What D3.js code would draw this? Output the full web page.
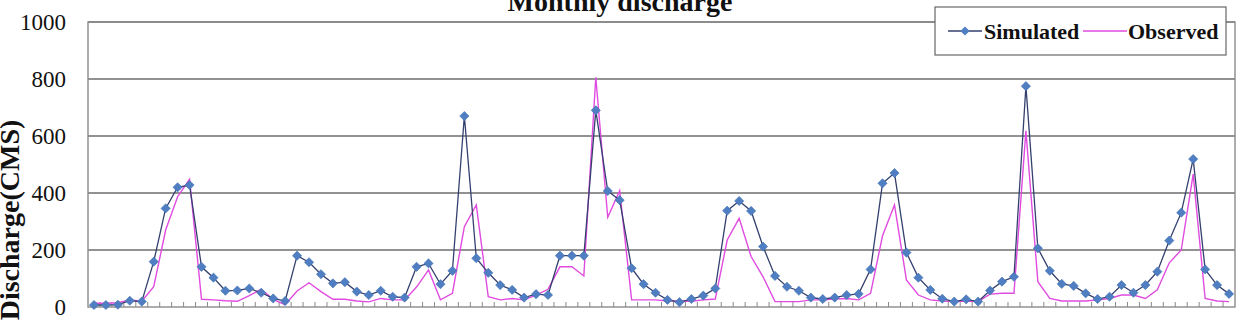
<!DOCTYPE html>
<html>
<head>
<meta charset="utf-8">
<script src="https://cdn.jsdelivr.net/npm/d3@7"></script>
<style>
  html, body { margin: 0; padding: 0; background: #fff; }
  svg { display: block; }
  svg text { font-family: "Liberation Serif", "Times New Roman", serif; }
</style>
</head>
<body>
<svg id="chart" width="1248" height="320"></svg>
<script>
// Monthly values, 96 months
const simulated = [7, 7, 8, 22, 19, 159, 346, 420, 428, 141, 103, 57, 58, 65, 50, 30,
  21, 180, 157, 115, 83, 87, 54, 42, 57, 36, 33, 141, 153, 80, 127, 670,
  171, 120, 77, 60, 33, 45, 42, 180, 180, 180, 690, 407, 375, 136, 80, 50,
  25, 17, 28, 40, 65, 338, 372, 337, 212, 109, 71, 57, 33, 28, 33, 42,
  46, 132, 434, 470, 191, 103, 60, 29, 19, 27, 19, 58, 89, 106, 775, 206,
  127, 81, 74, 48, 28, 36, 77, 50, 77, 124, 233, 331, 519, 132, 77, 46]
const observed = [13, 13, 15, 25, 20, 71, 270, 387, 448, 27, 25, 22, 20, 40, 62, 27,
  8, 56, 85, 54, 27, 27, 21, 18, 30, 25, 25, 70, 130, 25, 48, 282,
  358, 36, 25, 30, 25, 42, 62, 141, 141, 109, 806, 315, 408, 25, 25, 25,
  21, 21, 20, 25, 28, 235, 311, 177, 106, 19, 19, 19, 25, 25, 28, 30,
  25, 48, 250, 358, 95, 42, 25, 21, 19, 21, 19, 45, 48, 48, 618, 89,
  30, 21, 21, 21, 25, 30, 42, 42, 30, 60, 155, 200, 466, 30, 21, 19]
const yTicks = [0, 200, 400, 600, 800, 1000]
const seriesNames = ['Simulated', 'Observed']

const svg = d3.select('#chart')
const plot = { left: 88, right: 1235, top: 22, bottom: 307 }

const x = d3.scaleBand()
  .domain(d3.range(simulated.length))
  .range([plot.left, plot.right])
const y = d3.scaleLinear()
  .domain([0, 1000])
  .range([plot.bottom, plot.top])
const cx = i => x(i) + x.bandwidth() / 2

// gridlines
svg.append('g')
  .selectAll('line')
  .data(yTicks.filter(t => t > 0))
  .join('line')
  .attr('x1', plot.left).attr('x2', plot.right)
  .attr('y1', d => y(d)).attr('y2', d => y(d))
  .attr('stroke', '#6e6e6e')
  .attr('stroke-width', 1.6)

// plot frame
svg.append('rect')
  .attr('x', plot.left).attr('y', plot.top)
  .attr('width', plot.right - plot.left)
  .attr('height', plot.bottom - plot.top)
  .attr('fill', 'none')
  .attr('stroke', '#8a8a8a')
  .attr('stroke-width', 1.4)

// y axis labels
const yAxis = d3.axisLeft(y).tickValues(yTicks).tickFormat(d3.format('d')).tickSize(0).tickPadding(22)
svg.append('g')
  .attr('transform', `translate(${plot.left},0)`)
  .call(yAxis)
  .call(g => g.select('.domain').remove())
  .call(g => g.attr('font-family', null).attr('font-size', null))
  .selectAll('text')
  .style('font-size', '23px')
  .attr('fill', '#111')

// category ticks on the bottom axis (inside)
svg.append('g')
  .selectAll('line')
  .data(d3.range(1, simulated.length))
  .join('line')
  .attr('x1', d => x(d)).attr('x2', d => x(d))
  .attr('y1', plot.bottom).attr('y2', plot.bottom - 5)
  .attr('stroke', '#8a8a8a')
  .attr('stroke-width', 1)

const line = d3.line()
  .x((d, i) => cx(i))
  .y(d => y(d))

// observed
svg.append('path')
  .datum(observed)
  .attr('d', line)
  .attr('fill', 'none')
  .attr('stroke', '#e04be0')
  .attr('stroke-width', 1.4)

// simulated
svg.append('path')
  .datum(simulated)
  .attr('d', line)
  .attr('fill', 'none')
  .attr('stroke', '#34406e')
  .attr('stroke-width', 1.3)

const diamond = d3.symbol().type(d3.symbolSquare).size(42)
svg.append('g')
  .selectAll('path')
  .data(simulated)
  .join('path')
  .attr('d', diamond)
  .attr('transform', (d, i) => `translate(${cx(i)},${y(d)}) rotate(45)`)
  .attr('fill', '#4f7fc2')
  .attr('stroke', '#4170b0')
  .attr('stroke-width', 0.6)

// title (cut at the top, as in the source image)
svg.append('text')
  .attr('x', 620).attr('y', 11)
  .attr('text-anchor', 'middle')
  .style('font-size', '28px')
  .attr('font-weight', 'bold')
  .attr('fill', '#111')
  .text('Monthly discharge')

// y axis title
svg.append('text')
  .attr('transform', 'translate(19,220) rotate(-90)')
  .attr('text-anchor', 'middle')
  .style('font-size', '28px')
  .attr('font-weight', 'bold')
  .attr('fill', '#111')
  .text('Discharge(CMS)')

// legend
const legend = svg.append('g')
legend.append('rect')
  .attr('x', 935).attr('y', 7)
  .attr('width', 291).attr('height', 48)
  .attr('fill', '#fff')
  .attr('stroke', '#666')
  .attr('stroke-width', 1.2)

legend.append('line')
  .attr('x1', 948).attr('x2', 982).attr('y1', 31).attr('y2', 31)
  .attr('stroke', '#34406e').attr('stroke-width', 1.3)
legend.append('path')
  .attr('d', diamond)
  .attr('transform', 'translate(965,31) rotate(45)')
  .attr('fill', '#4f7fc2')
legend.append('text')
  .attr('x', 984).attr('y', 39)
  .style('font-size', '22px').attr('font-weight', 'bold').attr('fill', '#111')
  .text(seriesNames[0])

legend.append('line')
  .attr('x1', 1083).attr('x2', 1127).attr('y1', 31).attr('y2', 31)
  .attr('stroke', '#e04be0').attr('stroke-width', 1.4)
legend.append('text')
  .attr('x', 1128).attr('y', 39)
  .style('font-size', '22px').attr('font-weight', 'bold').attr('fill', '#111')
  .text(seriesNames[1])
</script>
</body>
</html>
